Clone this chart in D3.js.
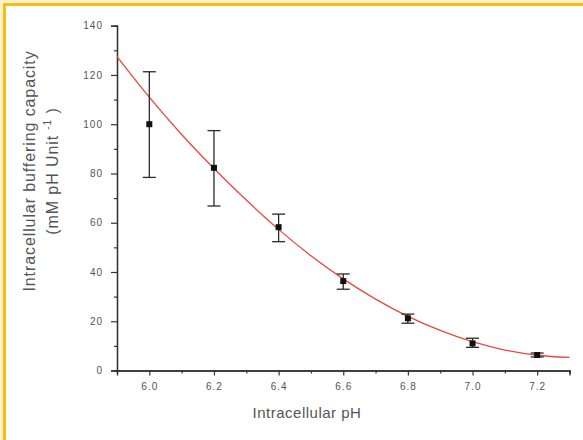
<!DOCTYPE html>
<html>
<head>
<meta charset="utf-8">
<script src="https://cdn.jsdelivr.net/npm/d3@7"></script>
<style>
  body { margin: 0; background: #fff; }
  text { font-family: "Liberation Sans", Arial, sans-serif; }
</style>
</head>
<body>
<svg id="chart" width="583" height="440"></svg>
<script>
// measured points (pH, mean, upper and lower end of error bar)
const phValues = [6.0, 6.2, 6.4, 6.6, 6.8, 7.0, 7.2];
const bufferMean = [100, 82.3, 58.2, 36.3, 21.2, 11.0, 6.3];
const errUpper = [121.3, 97.4, 63.5, 39.2, 22.9, 13.1, 7.1];
const errLower = [78.4, 66.8, 52.3, 33.0, 19.2, 9.4, 5.5];

// fitted curve
const fitPh = [5.9, 6.0, 6.1, 6.2, 6.3, 6.4, 6.5, 6.6, 6.7, 6.8, 6.9, 7.0, 7.1, 7.2, 7.3];
const fitBuffer = [127.5, 111, 95.8, 82, 69.2, 57.3, 46.6, 37.2, 29, 22, 16.3, 11.7, 8.3, 6.2, 5.3];

const xTicks = [6.0, 6.2, 6.4, 6.6, 6.8, 7.0, 7.2];
const xMinor = [5.9, 6.1, 6.3, 6.5, 6.7, 6.9, 7.1, 7.3];
const yTicks = [0, 20, 40, 60, 80, 100, 120, 140];
const yMinor = [10, 30, 50, 70, 90, 110, 130];

const svg = d3.select('#chart');

// page frame (only top and left edges show)
svg.append('rect').attr('x', 0).attr('y', 0).attr('width', 583).attr('height', 3).attr('fill', '#fdf0cc');
svg.append('rect').attr('x', 0).attr('y', 0).attr('width', 3).attr('height', 440).attr('fill', '#fdf0cc');
svg.append('rect').attr('x', 3).attr('y', 3).attr('width', 580).attr('height', 3).attr('fill', '#f6be17');
svg.append('rect').attr('x', 3).attr('y', 3).attr('width', 3).attr('height', 437).attr('fill', '#f6be17');

const x = d3.scaleLinear().domain([5.9, 7.3]).range([117, 569.5]);
const y = d3.scaleLinear().domain([0, 140]).range([370.5, 25.7]);

const axisColor = '#333';
const labelColor = '#555';

// x axis
const gx = svg.append('g').attr('transform', `translate(0,${y(0)})`);
gx.call(d3.axisBottom(x).tickValues(xMinor).tickSize(3).tickFormat(''));
gx.append('g').call(d3.axisBottom(x).tickValues(xTicks).tickSize(5).tickPadding(7)
    .tickFormat(d3.format('.1f')));
gx.selectAll('.domain').attr('stroke', axisColor).attr('stroke-width', 1.3);
gx.selectAll('line').attr('stroke', axisColor).attr('stroke-width', 1.2);
gx.selectAll('text').attr('fill', labelColor).style('font-size', '10px').style('letter-spacing', '1px');

// y axis
const gy = svg.append('g').attr('transform', `translate(${x(5.9)},0)`);
gy.call(d3.axisLeft(y).tickValues(yMinor).tickSize(3).tickFormat(''));
gy.append('g').call(d3.axisLeft(y).tickValues(yTicks).tickSize(6).tickPadding(8)
    .tickFormat(d3.format('d')));
gy.selectAll('.domain').attr('stroke', axisColor).attr('stroke-width', 1.3);
gy.selectAll('line').attr('stroke', axisColor).attr('stroke-width', 1.2);
gy.selectAll('text').attr('fill', labelColor).style('font-size', '10px').style('letter-spacing', '1px');

// axis titles
svg.append('text')
    .attr('x', 307).attr('y', 418)
    .attr('text-anchor', 'middle')
    .attr('fill', labelColor)
    .style('font-size', '15px')
    .style('letter-spacing', '0.5px')
    .text('Intracellular pH');

const yTitle = svg.append('g').attr('transform', 'translate(0,171) rotate(-90)');
yTitle.append('text')
    .attr('x', 0).attr('y', 35)
    .attr('text-anchor', 'middle')
    .attr('fill', labelColor)
    .style('font-size', '16px')
    .style('letter-spacing', '0.9px')
    .text('Intracellular buffering capacity');
const t2 = yTitle.append('text')
    .attr('x', 0).attr('y', 58)
    .attr('text-anchor', 'middle')
    .attr('fill', labelColor)
    .style('font-size', '16px')
    .style('letter-spacing', '0.9px');
t2.append('tspan').text('(mM pH Unit ');
t2.append('tspan').attr('dy', -7).style('font-size', '10px').text('-1');
t2.append('tspan').attr('dy', 7).text(' )');

// fitted curve
const line = d3.line()
    .x((d, i) => x(fitPh[i]))
    .y(d => y(d))
    .curve(d3.curveMonotoneX);
svg.append('path')
    .datum(fitBuffer)
    .attr('d', line)
    .attr('fill', 'none')
    .attr('stroke', '#e8473f')
    .attr('stroke-width', 1.3);

// error bars
const capW = 6.5;
const bars = svg.append('g').attr('stroke', '#2a2a2a').attr('stroke-width', 1.3);
phValues.forEach((p, i) => {
    bars.append('line')
        .attr('x1', x(p)).attr('x2', x(p))
        .attr('y1', y(errUpper[i])).attr('y2', y(errLower[i]));
    bars.append('line')
        .attr('x1', x(p) - capW).attr('x2', x(p) + capW)
        .attr('y1', y(errUpper[i])).attr('y2', y(errUpper[i]));
    bars.append('line')
        .attr('x1', x(p) - capW).attr('x2', x(p) + capW)
        .attr('y1', y(errLower[i])).attr('y2', y(errLower[i]));
});

// markers
svg.append('g').selectAll('rect')
    .data(bufferMean)
    .enter()
    .append('rect')
    .attr('x', (d, i) => x(phValues[i]) - 3)
    .attr('y', d => y(d) - 3)
    .attr('width', 6)
    .attr('height', 6)
    .attr('fill', '#111');
</script>
</body>
</html>
